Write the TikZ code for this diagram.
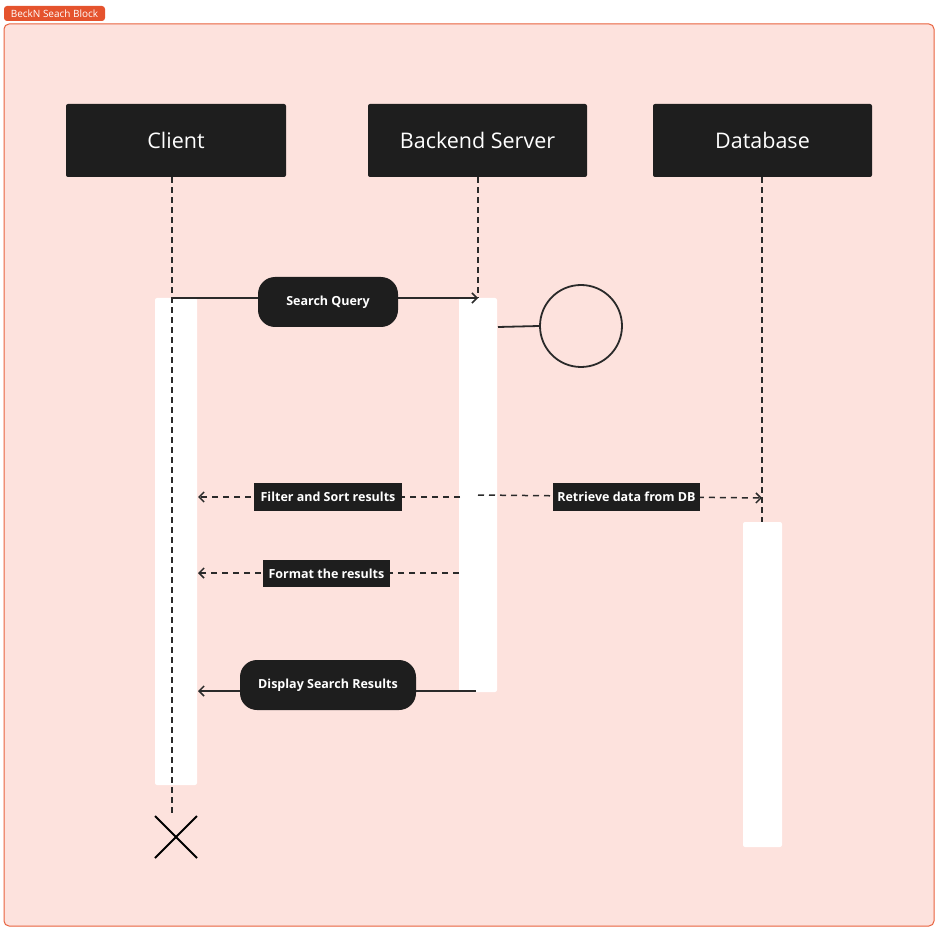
\documentclass[tikz,border=0pt]{standalone}
\usepackage{fontspec}
\setmainfont{Open Sans}
\usetikzlibrary{arrows.meta,calc}
\definecolor{bgpink}{HTML}{FDE2DD}
\definecolor{frameor}{HTML}{E8623E}
\definecolor{tagor}{HTML}{E5532D}
\definecolor{dark}{HTML}{1E1E1E}
\definecolor{linec}{HTML}{2A2A2A}
\tikzset{
  header/.style={fill=dark, rounded corners=2pt, minimum width=220pt, minimum height=73pt, text=white, font=\fontsize{21.5}{25}\selectfont, inner sep=0pt},
  pill/.style={fill=dark, rounded corners=17pt, text=white, font=\bfseries\fontsize{12.5}{15}\selectfont, inner sep=0pt, minimum height=50pt},
  tag/.style={fill=dark, text=white, font=\bfseries\fontsize{12.5}{15}\selectfont, inner sep=0pt, minimum height=28pt},
  actbar/.style={fill=white, draw=none, rounded corners=2pt},
  life/.style={draw=linec, line width=1.5pt, dash pattern=on 6pt off 4pt},
  msg/.style={draw=linec, line width=1.5pt, -{Straight Barb[length=5pt,width=10pt,line width=1.5pt]}},
  dmsg/.style={msg, dash pattern=on 6pt off 5pt},
}
\begin{document}
\begin{tikzpicture}[x=1pt,y=-1pt]
\useasboundingbox (0,0) rectangle (938,928);
% frame
\node[fill=tagor, rounded corners=3pt, text=white, font=\fontsize{10}{11}\selectfont, minimum width=101pt, minimum height=15pt, inner sep=0pt] (tag) at (54.5,13.5) {BeckN Seach Block};
\draw[fill=bgpink, draw=frameor, line width=1pt, rounded corners=5pt] (4,24) rectangle (934,926);
% headers
\node[header] (client) at (176,140.5) {Client};
\node[header, minimum width=219pt] (server) at (477.5,140.5) {Backend Server};
\node[header, minimum width=219pt] (db) at (762.5,140.5) {Database};
% activation bars
\fill[actbar] (155,298) rectangle (197,785);
\fill[actbar] (459,298) rectangle (497,692);
\fill[actbar] (743,522) rectangle (782,847);
% named bar anchors
\coordinate (cl0) at (172,177);
\coordinate (clend) at (172,815);
\coordinate (sv0) at (478,177);
\coordinate (svend) at (478,298);
\coordinate (db0) at (762,177);
\coordinate (dbend) at (762,522);
% lifelines
\draw[life] (client.south -| cl0) -- (clend);
\draw[life] (server.south -| sv0) -- (svend);
\draw[life] (db.south -| db0) -- (dbend);
% Search query
\coordinate (sq1) at (172,298);
\coordinate (sq2) at (478,298);
\draw[msg] (sq1) -- (sq2);
\node[pill, minimum width=140pt] (sq) at (328,302) {Search Query};
% circle
\coordinate (c1) at (498,327);
\node[draw=linec, line width=1.8pt, circle, minimum size=82pt, inner sep=0pt] (circ) at (581,326) {};
\draw[linec, line width=1.8pt] (c1) -- (circ.west);
% filter and sort / retrieve
\coordinate (f1) at (460,497);
\coordinate (f2) at (198,497);
\draw[dmsg] (f1) -- (f2);
\node[tag, minimum width=148pt] (fs) at (328,497) {Filter and Sort results};
\coordinate (r1) at (478,495);
\coordinate (r2) at (762,498);
\draw[dmsg] (r1) -- (r2);
\node[tag, minimum width=147pt] (rd) at (626.5,497) {Retrieve data from DB};
% format
\coordinate (fm1) at (459,573);
\coordinate (fm2) at (198,573);
\draw[dmsg] (fm1) -- (fm2);
\node[tag, minimum width=127pt, minimum height=27pt] (fm) at (326.5,573.5) {Format the results};
% display
\coordinate (d1) at (476,691);
\coordinate (d2) at (198,691);
\draw[msg] (d1) -- (d2);
\node[pill, minimum width=176pt] (ds) at (328,685) {Display Search Results};
% destroy X
\coordinate (xc) at (176,837);
\draw[black, line width=2pt] ($(xc)+(-21,-21)$) -- ($(xc)+(21,21)$);
\draw[black, line width=2pt] ($(xc)+(-21,21)$) -- ($(xc)+(21,-21)$);
\end{tikzpicture}
\end{document}
